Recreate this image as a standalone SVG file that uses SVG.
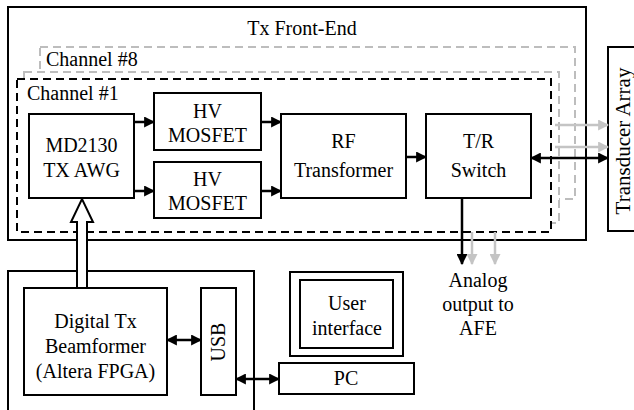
<svg xmlns="http://www.w3.org/2000/svg" width="634" height="410" viewBox="0 0 634 410">
<defs>
<marker id="ah" viewBox="0 0 10 10" refX="9" refY="5" markerUnits="userSpaceOnUse" markerWidth="11" markerHeight="11" orient="auto-start-reverse"><path d="M0,0 L10,5 L0,10 z" fill="#000"/></marker>
<marker id="gah" viewBox="0 0 10 10" refX="9" refY="5" markerUnits="userSpaceOnUse" markerWidth="11" markerHeight="11" orient="auto-start-reverse"><path d="M0,0 L10,5 L0,10 z" fill="#c4c4c4"/></marker>
</defs>

<g id="tx-frontend">
<rect x="8" y="7" width="578" height="233" fill="none" stroke="#000" stroke-width="2"/>
<text x="302" y="35" font-family="Times New Roman, serif" font-size="20" text-anchor="middle">Tx Front-End</text>
</g>
<g id="channel8">
<rect x="40" y="47" width="535" height="152" fill="#fff" stroke="#bdbdbd" stroke-width="2" stroke-dasharray="8 5"/>
<text x="46" y="66" font-family="Times New Roman, serif" font-size="20">Channel #8</text>
</g>
<g id="channel2">
<rect x="24" y="72" width="535" height="151" fill="#fff" stroke="#bdbdbd" stroke-width="2" stroke-dasharray="8 5"/>
</g>
<g id="channel1">
<rect x="17" y="79" width="534" height="153" fill="#fff" stroke="#000" stroke-width="2" stroke-dasharray="8 5"/>
<text x="27" y="100" font-family="Times New Roman, serif" font-size="20">Channel #1</text>
</g>
<g id="md2130">
<rect x="29" y="114" width="105" height="84" fill="#fff" stroke="#000" stroke-width="2"/>
<text x="81.5" y="152" font-family="Times New Roman, serif" font-size="20" text-anchor="middle">MD2130</text>
<text x="81.5" y="177" font-family="Times New Roman, serif" font-size="20" text-anchor="middle">TX AWG</text>
</g>
<g id="hv-mosfet-1">
<rect x="154" y="93" width="107" height="57" fill="#fff" stroke="#000" stroke-width="2"/>
<text x="207.5" y="118" font-family="Times New Roman, serif" font-size="20" text-anchor="middle">HV</text>
<text x="207.5" y="142" font-family="Times New Roman, serif" font-size="20" text-anchor="middle">MOSFET</text>
</g>
<g id="hv-mosfet-2">
<rect x="154" y="162" width="107" height="56" fill="#fff" stroke="#000" stroke-width="2"/>
<text x="207.5" y="186" font-family="Times New Roman, serif" font-size="20" text-anchor="middle">HV</text>
<text x="207.5" y="210" font-family="Times New Roman, serif" font-size="20" text-anchor="middle">MOSFET</text>
</g>
<g id="rf-transformer">
<rect x="281" y="114" width="125" height="84" fill="#fff" stroke="#000" stroke-width="2"/>
<text x="343.5" y="148" font-family="Times New Roman, serif" font-size="20" text-anchor="middle">RF</text>
<text x="343.5" y="177" font-family="Times New Roman, serif" font-size="20" text-anchor="middle">Transformer</text>
</g>
<g id="tr-switch">
<rect x="426" y="114" width="105" height="84" fill="#fff" stroke="#000" stroke-width="2"/>
<text x="478.5" y="148" font-family="Times New Roman, serif" font-size="20" text-anchor="middle">T/R</text>
<text x="478.5" y="177" font-family="Times New Roman, serif" font-size="20" text-anchor="middle">Switch</text>
</g>
<g id="transducer-array">
<rect x="608" y="47" width="40" height="184" fill="#fff" stroke="#000" stroke-width="2"/>
<text transform="translate(630,141) rotate(-90)" font-family="Times New Roman, serif" font-size="21" text-anchor="middle">Transducer Array</text>
</g>
<g id="analog-output">
<text x="478" y="287" font-family="Times New Roman, serif" font-size="20" text-anchor="middle">Analog</text>
<text x="478" y="311" font-family="Times New Roman, serif" font-size="20" text-anchor="middle">output to</text>
<text x="478" y="335" font-family="Times New Roman, serif" font-size="20" text-anchor="middle">AFE</text>
</g>
<g id="fpga-board">
<rect x="8" y="271" width="246" height="150" fill="none" stroke="#000" stroke-width="2"/>
</g>
<g id="digital-beamformer">
<rect x="24" y="288" width="143" height="107" fill="#fff" stroke="#000" stroke-width="2"/>
<text x="95.5" y="328" font-family="Times New Roman, serif" font-size="20" text-anchor="middle">Digital Tx</text>
<text x="95.5" y="353" font-family="Times New Roman, serif" font-size="20" text-anchor="middle">Beamformer</text>
<text x="95.5" y="378" font-family="Times New Roman, serif" font-size="20" text-anchor="middle">(Altera FPGA)</text>
</g>
<g id="usb">
<rect x="201" y="288" width="35" height="107" fill="#fff" stroke="#000" stroke-width="2"/>
<text transform="translate(225,342) rotate(-90)" font-family="Times New Roman, serif" font-size="20" text-anchor="middle">USB</text>
</g>
<g id="user-interface">
<rect x="290" y="272" width="113" height="84" fill="#fff" stroke="#000" stroke-width="2"/>
<rect x="300" y="280" width="93" height="68" fill="#fff" stroke="#000" stroke-width="2"/>
<text x="347" y="310" font-family="Times New Roman, serif" font-size="20" text-anchor="middle">User</text>
<text x="347" y="335" font-family="Times New Roman, serif" font-size="20" text-anchor="middle">interface</text>
</g>
<g id="pc">
<rect x="279" y="363" width="135" height="31" fill="#fff" stroke="#000" stroke-width="2"/>
<text x="346" y="385" font-family="Times New Roman, serif" font-size="20" text-anchor="middle">PC</text>
</g>

<g id="connectors" fill="none" stroke-width="2.5">
<g stroke="#000" marker-end="url(#ah)">
<line x1="134" y1="122" x2="154" y2="122"/>
<line x1="134" y1="191" x2="154" y2="191"/>
<line x1="261" y1="122" x2="281" y2="122"/>
<line x1="261" y1="191" x2="281" y2="191"/>
<line x1="406" y1="157" x2="426" y2="157"/>
<line x1="462" y1="198" x2="462" y2="264"/>
<line x1="531" y1="158" x2="608" y2="158" marker-start="url(#ah)"/>
<line x1="167" y1="340" x2="201" y2="340" marker-start="url(#ah)"/>
<line x1="236" y1="379" x2="279" y2="379" marker-start="url(#ah)"/>
</g>
<g stroke="#c4c4c4" marker-end="url(#gah)">
<line x1="555" y1="125" x2="608" y2="125"/>
<line x1="555" y1="147" x2="608" y2="147"/>
<line x1="472" y1="232" x2="472" y2="264"/>
<line x1="495" y1="232" x2="495" y2="264"/>
</g>
<path d="M77,288 L77,222 L71,222 L82,199 L93,222 L87,222 L87,288 Z" fill="#fff" stroke="#000" stroke-width="2"/>
</g>
</svg>
